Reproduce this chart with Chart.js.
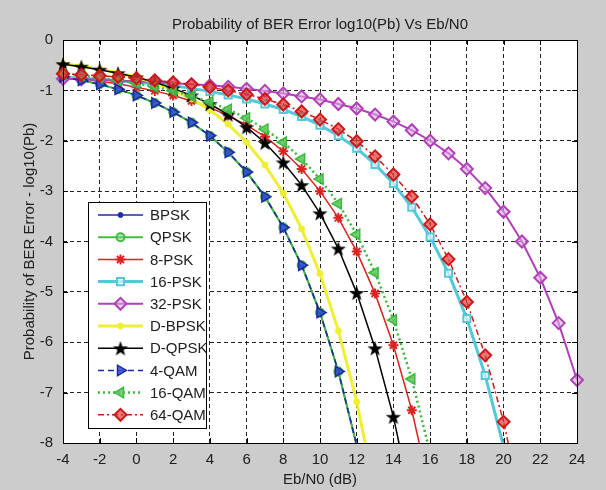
<!DOCTYPE html>
<html>
<head>
<meta charset="utf-8">
<script src="https://cdn.jsdelivr.net/npm/chart.js@4.4.1/dist/chart.umd.min.js"></script>
<style>
  html, body { margin: 0; padding: 0; background: #cccccc; }
  #wrap { width: 606px; height: 490px; }
</style>
</head>
<body>
<div id="wrap"><canvas id="ber" width="606" height="490"></canvas></div>
<script>
// Eb/N0 points (dB), one marker per dB
const ebno = [-4, -3, -2, -1, 0, 1, 2, 3, 4, 5, 6, 7, 8, 9, 10, 11, 12, 13, 14, 15, 16, 17, 18, 19, 20, 21, 22, 23, 24]
const xTicks = [-4, -2, 0, 2, 4, 6, 8, 10, 12, 14, 16, 18, 20, 22, 24]
const yTicks = [0, -1, -2, -3, -4, -5, -6, -7, -8]

// log10(Pb), starting at -4 dB
const bpsk  = [-0.73, -0.80, -0.88, -0.98, -1.10, -1.25, -1.43, -1.64, -1.90, -2.23, -2.62, -3.11, -3.72, -4.47, -5.41, -6.58, -8.05]
const qpsk  = [-0.73, -0.80, -0.88, -0.98, -1.10, -1.25, -1.43, -1.64, -1.90, -2.23, -2.62, -3.11, -3.72, -4.47, -5.41, -6.58, -8.05]
const psk8  = [-0.73, -0.77, -0.82, -0.87, -0.94, -1.01, -1.10, -1.21, -1.34, -1.50, -1.69, -1.92, -2.21, -2.56, -3.00, -3.53, -4.20, -5.03, -6.06, -7.35, -8.96]
const psk16 = [-0.74, -0.76, -0.78, -0.81, -0.84, -0.87, -0.91, -0.96, -1.02, -1.09, -1.17, -1.27, -1.38, -1.52, -1.69, -1.90, -2.15, -2.47, -2.85, -3.32, -3.91, -4.63, -5.53, -6.66, -8.07]
const psk32 = [-0.77, -0.78, -0.79, -0.81, -0.82, -0.84, -0.86, -0.88, -0.90, -0.93, -0.97, -1.01, -1.06, -1.12, -1.18, -1.27, -1.36, -1.48, -1.62, -1.79, -2.00, -2.25, -2.56, -2.94, -3.41, -4.00, -4.72, -5.62, -6.75]
const dbpsk = [-0.47, -0.52, -0.58, -0.65, -0.74, -0.85, -0.99, -1.17, -1.39, -1.67, -2.03, -2.48, -3.04, -3.75, -4.64, -5.77, -7.18, -8.97]
const dqpsk = [-0.48, -0.53, -0.59, -0.66, -0.74, -0.84, -0.96, -1.10, -1.27, -1.48, -1.73, -2.04, -2.43, -2.88, -3.44, -4.14, -5.02, -6.12, -7.48, -9.20]
const qam4  = [-0.73, -0.80, -0.88, -0.98, -1.10, -1.25, -1.43, -1.64, -1.90, -2.23, -2.62, -3.11, -3.72, -4.47, -5.41, -6.58, -8.05]
const qam16 = [-0.67, -0.70, -0.75, -0.80, -0.86, -0.93, -1.01, -1.11, -1.23, -1.38, -1.55, -1.77, -2.03, -2.36, -2.76, -3.25, -3.86, -4.62, -5.56, -6.73, -8.20]
const qam64 = [-0.67, -0.69, -0.71, -0.73, -0.76, -0.80, -0.84, -0.88, -0.94, -1.00, -1.08, -1.17, -1.28, -1.42, -1.58, -1.77, -2.01, -2.31, -2.67, -3.11, -3.66, -4.35, -5.20, -6.26, -7.58, -9.23]

const FONT = "'Liberation Sans', Arial, sans-serif"
const TXT = '#202020'

// filled pentagram for D-QPSK
function pentagram(size, color) {
    const c = document.createElement('canvas')
    c.width = size
    c.height = size
    const g = c.getContext('2d')
    g.fillStyle = color
    g.beginPath()
    for (let k = 0; k < 10; k++) {
        const r = k % 2 ? size * 0.2 : size * 0.5
        const a = -Math.PI / 2 + k * Math.PI / 5
        g.lineTo(size / 2 + r * Math.cos(a), size / 2 + r * Math.sin(a) + size * 0.05)
    }
    g.closePath()
    g.fill()
    return c
}

const styles = [
    {label: 'BPSK',   data: bpsk,  color: '#1e2ea8', width: 1.5, dash: [],           marker: 'circle',   radius: 2.5, fill: '#1e2ea8', rot: 0,   bw: 1},
    {label: 'QPSK',   data: qpsk,  color: '#44bb44', width: 2,   dash: [],           marker: 'circle',   radius: 4,   fill: 'rgba(120,210,120,0.5)', rot: 0, bw: 2},
    {label: '8-PSK',  data: psk8,  color: '#dd2222', width: 1.5, dash: [],           marker: 'star',     radius: 5,   fill: '#dd2222', rot: 0,   bw: 2},
    {label: '16-PSK', data: psk16, color: '#55c8d8', width: 3,   dash: [],           marker: 'rect',     radius: 5,   fill: 'rgba(255,255,255,0.6)', rot: 0, bw: 2},
    {label: '32-PSK', data: psk32, color: '#b040b8', width: 2,   dash: [],           marker: 'rectRot',  radius: 6,   fill: 'rgba(220,170,225,0.6)', rot: 0, bw: 2},
    {label: 'D-BPSK', data: dbpsk, color: '#eeee33', width: 3,   dash: [],           marker: 'circle',   radius: 3,   fill: '#eeee33', rot: 0,   bw: 1},
    {label: 'D-QPSK', data: dqpsk, color: '#000000', width: 1.5, dash: [],           marker: pentagram(16, '#000'), radius: 7, fill: '#000', rot: 0, bw: 1},
    {label: '4-QAM',  data: qam4,  color: '#1a2a9a', width: 1.5, dash: [6, 4],       marker: 'triangle', radius: 6,   fill: 'rgba(50,80,215,0.85)', rot: 90, bw: 1.5},
    {label: '16-QAM', data: qam16, color: '#3cb83c', width: 2.5, dash: [2, 3],       marker: 'triangle', radius: 6,   fill: 'rgba(90,200,90,0.85)', rot: -90, bw: 1.5},
    {label: '64-QAM', data: qam64, color: '#cc1818', width: 1.5, dash: [6, 3, 2, 3], marker: 'rectRot',  radius: 6,   fill: 'rgba(225,60,60,0.7)', rot: 0, bw: 2}
]

function pts(ys) {
    return ys.map((y, k) => ({x: ebno[k], y: y}))
}

const datasets = styles.map((s, i) => ({
    label: s.label,
    data: pts(s.data),
    borderColor: s.color,
    borderWidth: s.width,
    borderDash: s.dash,
    pointStyle: s.marker,
    pointRotation: s.rot,
    pointRadius: c => (c.raw && c.raw.y < -8 ? 0 : s.radius),
    pointBackgroundColor: s.fill,
    pointBorderColor: s.color,
    pointBorderWidth: s.bw,
    tension: 0,
    fill: false,
    order: styles.length - i,
    clip: {left: 12, top: 12, right: 12, bottom: 0}
}))

const background = {
    id: 'background',
    beforeDraw(chart) {
        const {ctx, chartArea: a} = chart
        ctx.save()
        ctx.fillStyle = '#cccccc'
        ctx.fillRect(0, 0, chart.width, chart.height)
        ctx.fillStyle = '#ffffff'
        ctx.fillRect(a.left, a.top, a.right - a.left, a.bottom - a.top)
        ctx.restore()
    }
}

const frame = {
    id: 'frame',
    afterDatasetsDraw(chart) {
        const {ctx, chartArea: a, scales} = chart
        ctx.save()
        ctx.strokeStyle = '#000'
        ctx.lineWidth = 1
        ctx.setLineDash([])
        ctx.beginPath()
        for (const t of xTicks) {
            const x = Math.round(scales.x.getPixelForValue(t)) + 0.5
            ctx.moveTo(x, a.bottom); ctx.lineTo(x, a.bottom - 5)
            ctx.moveTo(x, a.top); ctx.lineTo(x, a.top + 5)
        }
        for (const t of yTicks) {
            const y = Math.round(scales.y.getPixelForValue(t)) + 0.5
            ctx.moveTo(a.left, y); ctx.lineTo(a.left + 5, y)
            ctx.moveTo(a.right, y); ctx.lineTo(a.right - 5, y)
        }
        ctx.stroke()
        ctx.strokeRect(Math.round(a.left) + 0.5, Math.round(a.top) + 0.5, Math.round(a.right - a.left), Math.round(a.bottom - a.top))

        // legend box inside the plot
        const bx = 88, by = 202, bw = 118, bh = 226, step = 22.2
        ctx.fillStyle = '#ffffff'
        ctx.fillRect(bx, by, bw, bh)
        ctx.strokeRect(bx + 0.5, by + 0.5, bw, bh)
        styles.forEach((s, i) => {
            const y = by + 13 + i * step
            ctx.save()
            ctx.strokeStyle = s.color
            ctx.lineWidth = s.width
            ctx.setLineDash(s.dash)
            ctx.beginPath()
            ctx.moveTo(98, y)
            ctx.lineTo(143, y)
            ctx.stroke()
            ctx.setLineDash([])
            ctx.fillStyle = s.fill
            ctx.strokeStyle = s.color
            ctx.lineWidth = s.bw
            Chart.helpers.drawPoint(ctx, {pointStyle: s.marker, rotation: s.rot, radius: s.radius, borderWidth: s.bw}, 120.5, y)
            ctx.restore()
            ctx.fillStyle = TXT
            ctx.font = '15px ' + FONT
            ctx.textBaseline = 'middle'
            ctx.textAlign = 'left'
            ctx.fillText(s.label, 150, y + 1)
        })

        // title
        ctx.fillStyle = TXT
        ctx.font = '15px ' + FONT
        ctx.textAlign = 'center'
        ctx.textBaseline = 'alphabetic'
        ctx.fillText('Probability of BER Error log10(Pb) Vs Eb/N0', (a.left + a.right) / 2, 29)
        ctx.restore()
    }
}

new Chart(document.getElementById('ber'), {
    type: 'line',
    data: {datasets: datasets},
    plugins: [background, frame],
    options: {
        responsive: false,
        animation: false,
        devicePixelRatio: 1,
        events: [],
        layout: {padding: {left: 0, right: 29, top: 40, bottom: 0}},
        plugins: {
            legend: {display: false},
            tooltip: {enabled: false},
            title: {display: false}
        },
        scales: {
            x: {
                type: 'linear',
                min: -4,
                max: 24,
                afterFit: s => { s.height = 47 },
                afterBuildTicks: s => { s.ticks = xTicks.map(v => ({value: v})) },
                ticks: {color: TXT, font: {family: FONT, size: 15}, padding: 8, maxRotation: 0, autoSkip: false},
                grid: {color: '#222', lineWidth: 1, drawTicks: false},
                border: {display: false, dash: [4, 3]},
                title: {display: true, text: 'Eb/N0 (dB)', color: TXT, font: {family: FONT, size: 15}, padding: {top: 0, bottom: 1}}
            },
            y: {
                type: 'linear',
                min: -8,
                max: 0,
                afterFit: s => { s.width = 63 },
                afterBuildTicks: s => { s.ticks = yTicks.map(v => ({value: v})) },
                ticks: {color: TXT, font: {family: FONT, size: 15}, padding: 10, autoSkip: false},
                grid: {color: '#222', lineWidth: 1, drawTicks: false},
                border: {display: false, dash: [4, 3]},
                title: {display: true, text: 'Probability of BER Error - log10(Pb)', color: TXT, font: {family: FONT, size: 15}, padding: {top: 21, bottom: 0}}
            }
        }
    }
})
</script>
</body>
</html>
